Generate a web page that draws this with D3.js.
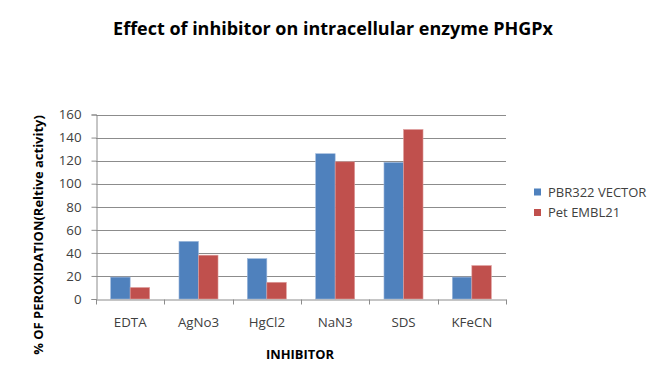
<!DOCTYPE html>
<html><head><meta charset="utf-8">
<script src="https://cdn.jsdelivr.net/npm/d3@7"></script>
<style>body{margin:0;background:#fff}svg{display:block}</style>
</head><body>
<svg id="c" width="667" height="370"></svg>
<script>
const categories = ["EDTA","AgNo3","HgCl2","NaN3","SDS","KFeCN"];
const seriesNames = ["PBR322 VECTOR","Pet EMBL21"];
const pbr322 = [19, 50, 35, 126, 118.5, 19];
const petEmbl21 = [10, 38, 14.5, 119, 147, 29];
const yTicks = [0,20,40,60,80,100,120,140,160];
const colors = ["#4F81BD","#C0504D"];
const title = "Effect of inhibitor on intracellular enzyme PHGPx";
const xTitle = "INHIBITOR";
const yTitle = "% OF PEROXIDATION(Reltive activity)";

const svg = d3.select("#c");
const font = "Open Sans, Liberation Sans, sans-serif";
const m = {left:96, right:506, top:114.5, bottom:299};

const x = d3.scaleBand().domain(categories).range([m.left, m.right]).paddingInner(0).paddingOuter(0);
const bw = x.bandwidth()/3.5;
const y = d3.scaleLinear().domain([0,160]).range([m.bottom, m.top]);

// gridlines
svg.append("g").selectAll("line").data(yTicks.slice(1)).join("line")
  .attr("x1", m.left).attr("x2", m.right)
  .attr("y1", d=>Math.round(y(d))+0.5).attr("y2", d=>Math.round(y(d))+0.5)
  .attr("stroke","#8c8c8c").attr("stroke-width",1);

// bars
const data = categories.map((c,i)=>({c, v:[pbr322[i], petEmbl21[i]]}));
const g = svg.append("g");
data.forEach(d=>{
  d.v.forEach((v,j)=>{
    g.append("rect")
      .attr("x", x(d.c)+0.75*bw + j*bw)
      .attr("y", y(v))
      .attr("width", bw)
      .attr("height", y(0)-y(v))
      .attr("fill", colors[j])
      .attr("stroke", j===0 ? "#9fb9dc" : "#dfa09f")
      .attr("stroke-width", 0.6);
  });
});

// y axis
const yAxis = d3.axisLeft(y).tickValues(yTicks).tickSize(5).tickPadding(10);
const ya = svg.append("g").attr("transform",`translate(${m.left+0.5},0)`).call(yAxis);
ya.select(".domain").attr("stroke","#8c8c8c");
ya.selectAll(".tick line").attr("stroke","#8c8c8c");
ya.selectAll("text").attr("font-family",font).attr("font-size",13.3).attr("fill","#404040");

// x axis
const xAxis = d3.axisBottom(x).tickSize(0).tickPadding(18);
const xa = svg.append("g").attr("transform",`translate(0,${m.bottom+0.5})`).call(xAxis);
xa.select(".domain").attr("stroke","#8c8c8c");
xa.selectAll("text").attr("font-family",font).attr("font-size",13.3).attr("fill","#404040");
// category boundary ticks
const bounds = categories.map(c=>x(c)).concat([m.right]);
xa.append("g").selectAll("line").data(bounds).join("line")
  .attr("x1",d=>Math.round(d)+0.5).attr("x2",d=>Math.round(d)+0.5)
  .attr("y1",0).attr("y2",5).attr("stroke","#8c8c8c");

// fit helper
function fit(sel, w){
  const len = sel.node().getComputedTextLength();
  const fs = parseFloat(sel.attr("font-size"));
  sel.attr("font-size", fs*w/len);
}

// title
const t = svg.append("text").attr("x",333).attr("y",35).attr("text-anchor","middle")
  .attr("font-family",font).attr("font-weight","bold").attr("font-size",18).attr("fill","#000").text(title);
fit(t, 440);

// axis titles
const xt = svg.append("text").attr("x",300).attr("y",359).attr("text-anchor","middle")
  .attr("font-family",font).attr("font-weight","bold").attr("font-size",13.3).attr("fill","#000").text(xTitle);
fit(xt, 68);
const yt = svg.append("text").attr("transform","translate(43,235) rotate(-90)").attr("text-anchor","middle")
  .attr("font-family",font).attr("font-weight","bold").attr("font-size",13.3).attr("fill","#000").text(yTitle);
fit(yt, 240);

// legend
const lg = svg.append("g");
seriesNames.forEach((s,i)=>{
  const yy = 192 + i*20.5;
  lg.append("rect").attr("x",534).attr("y",yy-3.5).attr("width",7).attr("height",7).attr("fill",colors[i]);
  lg.append("text").attr("x",548).attr("y",yy+4.5).attr("font-family",font).attr("font-size",13)
    .attr("fill","#404040").text(s);
});
</script>
</body></html>
